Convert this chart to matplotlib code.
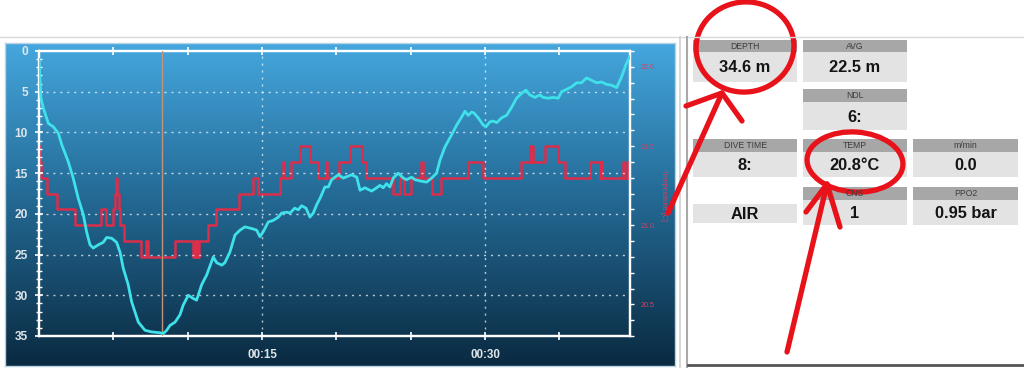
import numpy as np
import matplotlib
matplotlib.use("Agg")
import matplotlib.pyplot as plt
from matplotlib.colors import LinearSegmentedColormap
from matplotlib.ticker import MultipleLocator, FixedLocator, FixedFormatter, FormatStrFormatter
from matplotlib.patches import Rectangle, Ellipse

plt.rcParams['font.family'] = ['Liberation Sans', 'DejaVu Sans']

# ---------------- data ----------------
depth_t = [0, 0.13, 0.29, 0.63, 0.96, 1.3, 1.53, 1.97, 2.3, 2.64, 2.98, 3.2, 3.43, 3.65, 3.99,
           4.32, 4.55, 4.89, 5.22, 5.45, 5.67, 6.0, 6.23, 6.46, 6.68, 7.13, 7.58, 8.14, 8.36,
           8.59, 8.81, 9.15, 9.48, 9.7, 10.04, 10.38, 10.6, 10.94, 11.28, 11.72, 11.95, 12.29,
           12.5, 12.84, 13.18, 13.52, 13.85, 14.3, 14.64, 14.86, 15.08, 15.42, 15.76, 16.1,
           16.32, 16.66, 16.88, 17.2, 17.44, 17.66, 17.96, 18.22, 18.45, 18.67, 18.9, 19.23,
           19.46, 19.68, 20.13, 20.47, 21.03, 21.37, 21.59, 21.92, 22.37, 22.71, 22.93, 23.15,
           23.38, 23.6, 23.83, 24.16, 24.5, 24.72, 25.06, 25.29, 25.74, 26.07, 26.41, 26.74,
           26.97, 27.3, 27.75, 28.09, 28.43, 28.65, 28.87, 29.1, 29.25, 29.54, 29.88, 30.06,
           30.33, 30.55, 30.78, 31.12, 31.45, 31.79, 32.12, 32.46, 32.75, 33.02, 33.36, 33.69,
           33.91, 34.25, 34.59, 34.92, 35.15, 35.49, 35.82, 36.16, 36.49, 36.83, 37.17, 37.5,
           37.84, 38.18, 38.51, 38.85, 39.18, 39.47, 39.73]
depth = [1.0, 5.8, 7.0, 8.9, 9.3, 10.1, 11.5, 13.6, 15.6, 18.1, 20.1, 22.2, 23.8, 24.2, 23.8,
         23.5, 22.9, 23.0, 23.5, 24.7, 26.7, 28.7, 30.8, 32.1, 33.3, 34.3, 34.5, 34.6, 34.7,
         34.3, 33.7, 33.3, 32.4, 31.2, 30.0, 30.4, 30.6, 28.7, 27.5, 25.3, 26.0, 26.3,
         26.0, 24.7, 22.6, 22.0, 21.6, 21.8, 22.0, 22.8, 22.2, 21.0, 20.8, 20.4,
         19.9, 19.8, 19.9, 19.3, 19.5, 19.0, 19.3, 20.4, 19.9, 18.9, 18.1, 16.7,
         16.7, 15.8, 15.2, 15.6, 15.2, 15.5, 17.1, 16.8, 17.2, 16.8, 16.5, 16.8,
         16.3, 16.7, 15.6, 15.0, 15.6, 15.8, 15.5, 15.8, 16.0, 16.1, 15.6, 15.0,
         13.4, 11.8, 10.3, 9.1, 8.1, 7.4, 7.9, 7.5, 7.6, 8.2, 9.1, 9.3,
         8.7, 8.6, 8.8, 8.2, 7.9, 6.9, 5.8, 5.2, 4.8, 5.4, 5.7, 5.4,
         5.7, 5.8, 5.7, 5.8, 5.0, 4.7, 4.4, 3.9, 3.9, 3.3, 3.6, 3.9,
         3.8, 4.1, 4.2, 4.5, 3.2, 1.7, 0.7]

temp_t = [0.00, 0.06, 0.15, 0.55, 1.22, 2.39, 4.18, 4.52, 4.97, 5.12, 5.20, 5.27, 5.35, 5.43,
          5.70, 6.83, 7.22, 7.35, 9.12, 10.38, 10.48, 10.53, 10.62, 10.66, 10.78, 11.38,
          11.90, 13.47, 14.37, 14.75, 16.20, 16.40, 16.48, 16.98, 17.54, 18.20, 18.76,
          19.30, 19.38, 20.20, 20.90, 21.70, 22.00, 23.80, 24.25, 24.55, 25.05, 25.72,
          25.80, 26.45, 27.03, 28.87, 29.87, 32.45, 33.05, 33.12, 33.16, 33.22, 34.06,
          34.90, 35.35, 37.03, 37.72, 37.76, 37.80, 37.84, 37.90, 39.25, 39.32, 39.55,
          39.60, 39.75]
temp = [21.5, 21.4, 21.3, 21.2, 21.1, 21.0, 21.1, 21.0, 21.1, 21.2, 21.3, 21.2, 21.1, 21.0,
        20.9, 20.8, 20.9, 20.8, 20.9, 20.8, 20.9, 20.8, 20.9, 20.8, 20.9, 21.0,
        21.1, 21.2, 21.3, 21.2, 21.3, 21.4, 21.3, 21.4, 21.5, 21.4, 21.3,
        21.4, 21.3, 21.4, 21.5, 21.4, 21.3, 21.2, 21.3, 21.2, 21.3, 21.4,
        21.3, 21.2, 21.3, 21.4, 21.3, 21.4, 21.5, 21.4, 21.5, 21.4, 21.5,
        21.4, 21.3, 21.4, 21.3, 21.4, 21.3, 21.4, 21.3, 21.4, 21.3, 21.4,
        21.3, 21.3]

cursor_time = 8.3
time_ticks = [5, 10, 15, 20, 25, 30, 35]
time_labels = ['', '', '00:15', '', '', '00:30', '']
depth_ticks = [0, 5, 10, 15, 20, 25, 30, 35]
temp_ticks = [20.5, 21.0, 21.5, 22.0]

panel_headers = ['DEPTH', 'AVG', 'NDL', 'DIVE TIME', 'TEMP', 'm/min', 'CNS', 'PPO2']
panel_values = ['34.6 m', '22.5 m', '6:', '8:', '20.8°C', '0.0', '1', '0.95 bar']
gas_value = 'AIR'

# ---------------- figure ----------------
W, H = 1024, 368
fig = plt.figure(figsize=(W / 100, H / 100), dpi=100)
fig.patch.set_facecolor('white')

def fx(px):
    return px / W

def fy(py):
    return 1 - py / H

# gradient panel
bg = fig.add_axes([fx(5), fy(366), (675 - 5) / W, (366 - 43) / H])
grad = np.linspace(0, 1, 256).reshape(-1, 1)
cmap = LinearSegmentedColormap.from_list('g', [(0, '#45a7de'), (0.45, '#256d99'), (1, '#0a2a41')])
bg.imshow(grad, aspect='auto', cmap=cmap, extent=[0, 1, 0, 1], origin='upper')
bg.set_xticks([]); bg.set_yticks([])
for s in bg.spines.values():
    s.set_color('#b9d3e4'); s.set_linewidth(1)

# main axes
ax = fig.add_axes([fx(39), fy(336), (630 - 39) / W, (336 - 51) / H])
ax2 = ax.twinx()
ax.set_zorder(ax2.get_zorder() + 1)
ax.patch.set_visible(False)
ax2.patch.set_visible(False)

ax.set_xlim(0, 39.75)
ax.set_ylim(35, 0)
ax2.set_ylim(20.30, 22.10)

ax2.step(temp_t, temp, where='post', color='#dc2d4a', lw=1.8)
ax.plot(depth_t, depth, color='#3fe2ea', lw=2.0, zorder=4)
ax.axvline(cursor_time, color='#c0937a', lw=1.0, zorder=3)

# grid
for d in depth_ticks[1:-1]:
    ax.axhline(d, color='white', lw=1.0, ls=(0, (1.5, 3.5)), alpha=0.7, zorder=1)
for t, lab in zip(time_ticks, time_labels):
    if lab:
        ax.axvline(t, color='white', lw=1.0, ls=(0, (1.5, 3.5)), alpha=0.7, zorder=1)

for a in (ax, ax2):
    for s in a.spines.values():
        s.set_color('white'); s.set_linewidth(1.6)

ax.yaxis.set_major_locator(FixedLocator(depth_ticks))
ax.yaxis.set_minor_locator(MultipleLocator(1))
ax.tick_params(axis='y', which='major', direction='inout', length=6, width=1.2, color='white',
               labelcolor='#dfe6eb', labelsize=8.6, pad=5)
ax.tick_params(axis='y', which='minor', direction='inout', length=4, width=1.0, color='white')
for lab in ax.get_yticklabels():
    lab.set_fontweight('bold')

ax.xaxis.set_major_locator(FixedLocator(time_ticks))
ax.xaxis.set_major_formatter(FixedFormatter(time_labels))
ax.tick_params(axis='x', which='major', direction='inout', length=6, width=1.2, color='white',
               labelcolor='#dfe6eb', labelsize=8.4, pad=6, top=True)
for lab in ax.get_xticklabels():
    lab.set_fontweight('bold')

ax2.yaxis.set_major_locator(FixedLocator(temp_ticks))
ax2.yaxis.set_minor_locator(MultipleLocator(0.1))
ax2.yaxis.set_major_formatter(FormatStrFormatter('%.1f'))
ax2.tick_params(axis='y', which='both', direction='out', length=3, width=1.0, color='white',
                labelcolor='#d8405e', labelsize=5.2, pad=5)

fig.text(fx(663), fy(195), 'Temperature [C]', rotation=270, color='#d8405e', fontsize=5.2,
         ha='center', va='center')

# ---------------- right info panel ----------------
ov = fig.add_axes([0, 0, 1, 1])
ov.set_xlim(0, W); ov.set_ylim(H, 0)
ov.axis('off')
ov.patch.set_visible(False)
ov.set_zorder(10)

ov.plot([0, W], [37, 37], color='#d9d9d9', lw=1)
ov.plot([680, 680], [37, H], color='#d0d0d0', lw=1.2)
ov.plot([687, 687], [37, H], color='#a8a8a8', lw=1.5)
ov.plot([688, W], [365, 365], color='#555555', lw=2)

cols = [(693, 797), (803, 907), (913, 1018)]
# (col, header_top, header_bottom, value_bottom)
slots = [(0, 40, 52, 82), (1, 40, 52, 82), (1, 89, 102, 130),
         (0, 139, 152, 177), (1, 139, 152, 177), (2, 139, 152, 177),
         (1, 187, 200, 225), (2, 187, 200, 225)]
for (ci, ht, hb, vb), hdr, val in zip(slots, panel_headers, panel_values):
    x0, x1 = cols[ci]
    ov.add_patch(Rectangle((x0, ht), x1 - x0, hb - ht, facecolor='#a7a7a7', edgecolor='none'))
    ov.add_patch(Rectangle((x0, hb), x1 - x0, vb - hb, facecolor='#e3e3e3', edgecolor='none'))
    ov.text((x0 + x1) / 2, (ht + hb) / 2 + 0.5, hdr, ha='center', va='center', fontsize=6.2,
            color='#3c3c3c')
    ov.text((x0 + x1) / 2, (hb + vb) / 2 + 1, val, ha='center', va='center', fontsize=11.8,
            fontweight='bold', color='#141414')

x0, x1 = cols[0]
ov.add_patch(Rectangle((x0, 204), x1 - x0, 19, facecolor='#e3e3e3', edgecolor='none'))
ov.text((x0 + x1) / 2, 214.5, gas_value, ha='center', va='center', fontsize=11.8,
        fontweight='bold', color='#141414')

# red hand annotations
red = '#e8121a'
lwr = 3.8
ov.add_patch(Ellipse((745, 47), 98, 90, angle=-8, fill=False, edgecolor=red, lw=lwr))
ov.add_patch(Ellipse((855, 162), 96, 60, angle=4, fill=False, edgecolor=red, lw=lwr))
ov.plot([668, 722], [213, 93], color=red, lw=lwr, solid_capstyle='round')
ov.plot([686, 722, 742], [106, 93, 121], color=red, lw=lwr, solid_capstyle='round',
        solid_joinstyle='round')
ov.plot([787, 827], [352, 184], color=red, lw=lwr, solid_capstyle='round')
ov.plot([806, 827, 840], [212, 184, 227], color=red, lw=lwr, solid_capstyle='round',
        solid_joinstyle='round')

fig.savefig('out.png', dpi=100, facecolor='white')
